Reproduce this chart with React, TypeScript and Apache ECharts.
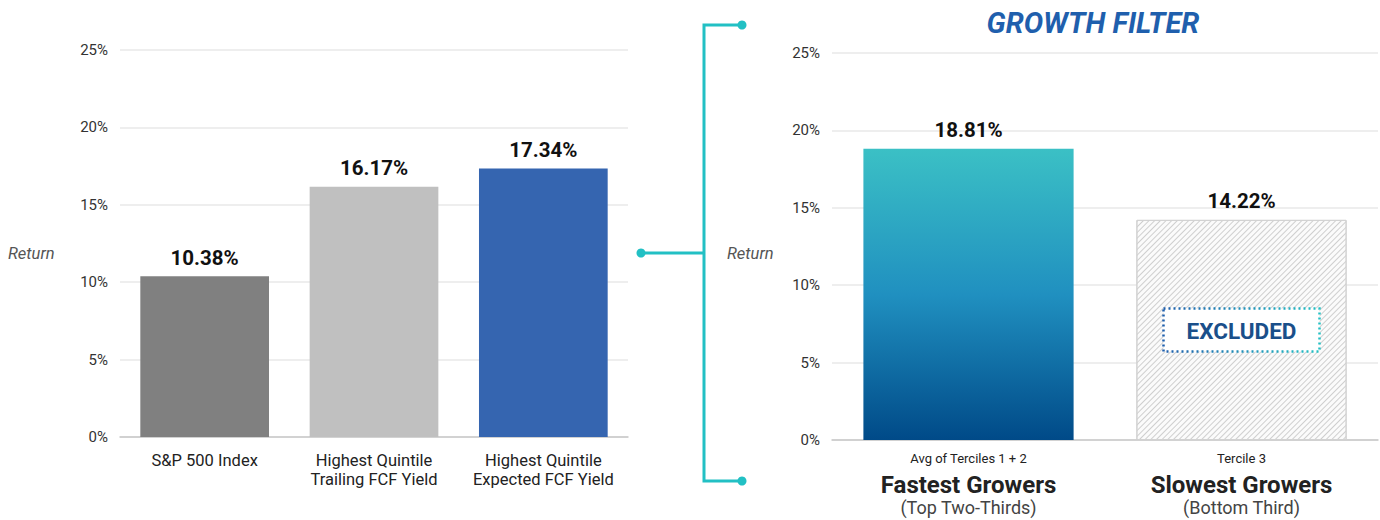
import React, { useEffect, useRef } from "react";
import * as echarts from "echarts";

const leftCategories = ["S&P 500 Index", "Highest Quintile\nTrailing FCF Yield", "Highest Quintile\nExpected FCF Yield"];
const leftValues = [10.38, 16.17, 17.34];
const leftColors = ["#808080", "#c0c0c0", "#3565b0"];

const rightCategories = ["Avg of Terciles 1 + 2", "Tercile 3"];
const rightTitles = ["Fastest Growers", "Slowest Growers"];
const rightSubtitles = ["(Top Two-Thirds)", "(Bottom Third)"];
const rightValues = [18.81, 14.22];

const yTicks = [0, 5, 10, 15, 20, 25];
const excludedLabelValue = 7.1;

const FONT = "Roboto, 'Noto Sans', sans-serif";

export default function App() {
  const ref = useRef<HTMLDivElement>(null);
  useEffect(() => {
    const chart = echarts.init(ref.current!, null, { renderer: "svg" });
    const yAxisCommon = (idx: number) => ({
      type: "value",
      gridIndex: idx,
      min: yTicks[0],
      max: yTicks[yTicks.length - 1],
      interval: 5,
      axisLine: { show: false },
      axisTick: { show: false },
      axisLabel: { formatter: "{value}%", fontFamily: FONT, fontSize: 15, color: "#333", margin: 12 },
      splitLine: { lineStyle: { color: "#e8e8e8", width: 1.5 } },
    });
    const labelCommon = {
      show: true,
      position: "top",
      distance: 8,
      formatter: (p: any) => p.value.toFixed(2) + "%",
      fontFamily: FONT,
      fontWeight: "bold",
      fontSize: 20.5,
      color: "#111",
    };
    chart.setOption({
      animation: false,
      title: {
        text: "GROWTH FILTER",
        left: 1088,
        top: 3,
        textAlign: "center",
        textStyle: { fontFamily: FONT, fontSize: 29, fontWeight: "bold", fontStyle: "italic", color: "#1f5fad" },
      },
      grid: [
        { left: 120, right: 752, top: 50, bottom: 83 },
        { left: 832, right: 2, top: 53, bottom: 80 },
      ],
      xAxis: [
        {
          type: "category",
          gridIndex: 0,
          data: leftCategories,
          axisTick: { show: false },
          axisLine: { lineStyle: { color: "#c8c8c8", width: 1.5 } },
          axisLabel: { interval: 0, fontFamily: FONT, fontSize: 16.5, color: "#222", lineHeight: 19, margin: 14 },
        },
        {
          type: "category",
          gridIndex: 1,
          data: rightCategories,
          axisTick: { show: false },
          axisLine: { lineStyle: { color: "#c8c8c8", width: 1.5 } },
          axisLabel: {
            interval: 0,
            margin: 5,
            formatter: (v: string, i: number) =>
              `{a|${v}}\n{b|${rightTitles[i]}}\n{c|${rightSubtitles[i]}}`,
            rich: {
              a: { fontFamily: FONT, fontSize: 13, color: "#222", lineHeight: 26 },
              b: { fontFamily: FONT, fontSize: 24, fontWeight: "bold", color: "#222", lineHeight: 27 },
              c: { fontFamily: FONT, fontSize: 18, color: "#444", lineHeight: 19 },
            },
          },
        },
      ],
      yAxis: [yAxisCommon(0), yAxisCommon(1)],
      series: [
        {
          type: "bar",
          xAxisIndex: 0,
          yAxisIndex: 0,
          barWidth: "76%",
          data: leftValues.map((v, i) => ({ value: v, itemStyle: { color: leftColors[i] } })),
          label: labelCommon,
        },
        {
          type: "bar",
          xAxisIndex: 1,
          yAxisIndex: 1,
          barWidth: "77%",
          data: [
            {
              value: rightValues[0],
              itemStyle: {
                color: new echarts.graphic.LinearGradient(0, 0, 0, 1, [
                  { offset: 0, color: "#3bc0c5" },
                  { offset: 0.5, color: "#2090c0" },
                  { offset: 1, color: "#004a88" },
                ]),
              },
            },
            {
              value: rightValues[1],
              itemStyle: {
                color: "#fbfbfb",
                borderColor: "#d2d2d2",
                borderWidth: 1,
                decal: {
                  symbol: "rect",
                  symbolSize: 1,
                  dashArrayX: [[1, 0]],
                  dashArrayY: [1, 3],
                  rotation: -Math.PI / 4,
                  color: "#cfcfcf",
                },
              },
            },
          ],
          label: labelCommon,
        },
      ],
    });
    const c = chart.convertToPixel({ xAxisIndex: 1, yAxisIndex: 1 }, [1, excludedLabelValue]) as number[];
    const bw = 156, bh = 43;
    const returnStyle = { text: "Return", fontFamily: FONT, fontStyle: "italic", fontSize: 16.5, fill: "#555", align: "left", verticalAlign: "middle" };
    chart.setOption({
      graphic: [
        { id: "retL", type: "text", x: 8, y: 253, style: returnStyle },
        { id: "retR", type: "text", x: 727, y: 253, style: returnStyle },
        {
          id: "bracket",
          type: "polyline",
          shape: { points: [[742, 25], [704, 25], [704, 481], [742, 481]] },
          style: { stroke: "#22c0c4", lineWidth: 3, fill: null },
        },
        {
          id: "bracketMid",
          type: "line",
          shape: { x1: 641, y1: 253, x2: 704, y2: 253 },
          style: { stroke: "#22c0c4", lineWidth: 3 },
        },
        { id: "dot1", type: "circle", shape: { cx: 742, cy: 25, r: 4.5 }, style: { fill: "#22c0c4" } },
        { id: "dot2", type: "circle", shape: { cx: 742, cy: 481, r: 4.5 }, style: { fill: "#22c0c4" } },
        { id: "dot3", type: "circle", shape: { cx: 641, cy: 253, r: 4.5 }, style: { fill: "#22c0c4" } },
        {
          id: "excluded",
          type: "group",
          x: c[0],
          y: c[1],
          z: 100,
          children: [
            {
              type: "rect",
              z: 100,
              shape: { x: -bw / 2, y: -bh / 2, width: bw, height: bh },
              style: {
                fill: "#ffffff",
                stroke: new echarts.graphic.LinearGradient(0, 0, 1, 0, [
                  { offset: 0, color: "#1f5fad" },
                  { offset: 1, color: "#22c0c4" },
                ]),
                lineWidth: 2.5,
                lineDash: [2, 3],
              },
            },
            {
              type: "text",
              z: 101,
              x: 0,
              y: 1,
              style: {
                text: "EXCLUDED",
                align: "center",
                verticalAlign: "middle",
                fontFamily: FONT,
                fontSize: 22.5,
                fontWeight: "bold",
                fill: "#1a4f8a",
              },
            },
          ],
        },
      ],
    });
    return () => chart.dispose();
  }, []);
  return <div ref={ref} style={{ position: "absolute", left: 0, top: 0, width: 1380, height: 520 }} />;
}
